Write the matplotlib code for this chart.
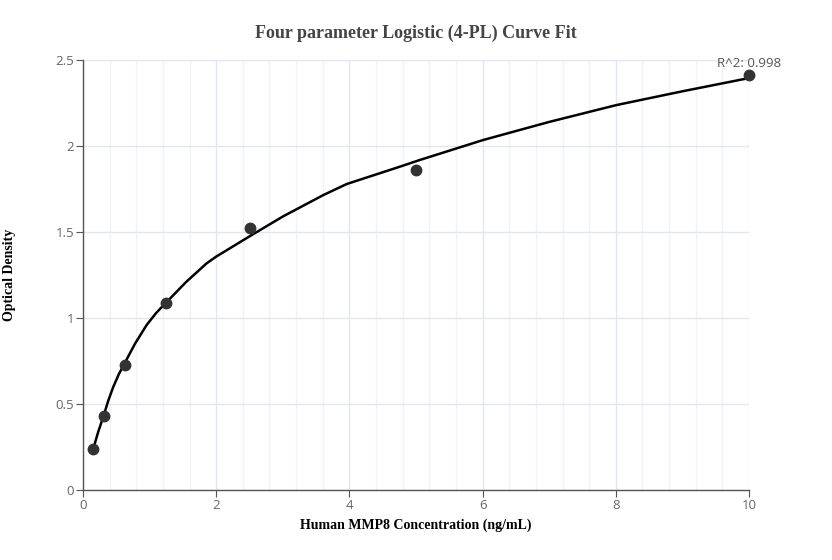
import matplotlib
matplotlib.use("Agg")
import matplotlib.pyplot as plt
from matplotlib.ticker import MultipleLocator

# standard points (concentration, OD)
conc = [0.156, 0.3125, 0.625, 1.25, 2.5, 5, 10]
od = [0.24, 0.43, 0.729, 1.089, 1.525, 1.86, 2.41]

# fitted curve
fit_x = [0.156, 0.23, 0.305, 0.38, 0.455, 0.54, 0.62, 0.78, 0.955, 1.1,
         1.246, 1.55, 1.857, 2.0, 2.51, 3.0, 3.61, 3.96, 4.76, 5.06, 6.01,
         7.0, 8.01, 9.0, 10.0]
fit_y = [0.242, 0.34, 0.426, 0.52, 0.60, 0.675, 0.733, 0.85, 0.959, 1.03,
         1.089, 1.21, 1.318, 1.357, 1.477, 1.59, 1.715, 1.779, 1.88, 1.919,
         2.035, 2.14, 2.238, 2.318, 2.395]

r2_text = "R^2: 0.998"
title = "Four parameter Logistic (4-PL) Curve Fit"
xlabel = "Human MMP8 Concentration (ng/mL)"
ylabel = "Optical Density"

fig = plt.figure(figsize=(8.32, 5.6), dpi=100)
ax = fig.add_axes([83 / 832, 70 / 560, 666 / 832, 430 / 560])

ax.plot(fit_x, fit_y, color="black", lw=1.8, zorder=3,
        solid_joinstyle="round", clip_on=False)
ax.plot(conc, od, "o", color="#333333", ms=7.5, zorder=4, clip_on=False)

ax.set_xlim(0, 10)
ax.set_ylim(0, 2.5)
ax.xaxis.set_minor_locator(MultipleLocator(0.4))
ax.set_xticks([0, 2, 4, 6, 8, 10])
ax.set_xticklabels(["0", "2", "4", "6", "8", "10"])
ax.set_yticks([0, 0.5, 1, 1.5, 2, 2.5])
ax.set_yticklabels(["0", "0.5", "1", "1.5", "2", "2.5"])

ax.grid(which="major", color="#e1e7f2", lw=1)
ax.grid(which="minor", axis="x", color="#eff2f8", lw=1)
ax.set_axisbelow(True)

for s in ["top", "right"]:
    ax.spines[s].set_visible(False)
for s in ["left", "bottom"]:
    ax.spines[s].set_color("#555555")
    ax.spines[s].set_linewidth(1)

ax.tick_params(which="major", length=5, color="#555555", labelcolor="#666666",
               labelsize=9.5, pad=1.5)
ax.tick_params(which="minor", length=0)
for lab in ax.get_xticklabels() + ax.get_yticklabels():
    lab.set_family("Open Sans")

ax.text(conc[-1], od[-1] + 0.03, r2_text, ha="center", va="bottom",
        fontsize=9.5, color="#555555", family="Open Sans")

fig.text(416 / 832, 1 - 33 / 560, title, ha="center", va="center",
         fontsize=13, fontweight="bold", color="#444444", family="Liberation Serif")
ax.set_xlabel(xlabel, fontsize=10, fontweight="bold", family="Liberation Serif")
ax.set_ylabel(ylabel, fontsize=10, fontweight="bold", family="Liberation Serif")
ax.xaxis.set_label_coords(0.5, -0.066)
ax.yaxis.set_label_coords(-0.1, 0.5)

fig.savefig("out.png", dpi=100)
